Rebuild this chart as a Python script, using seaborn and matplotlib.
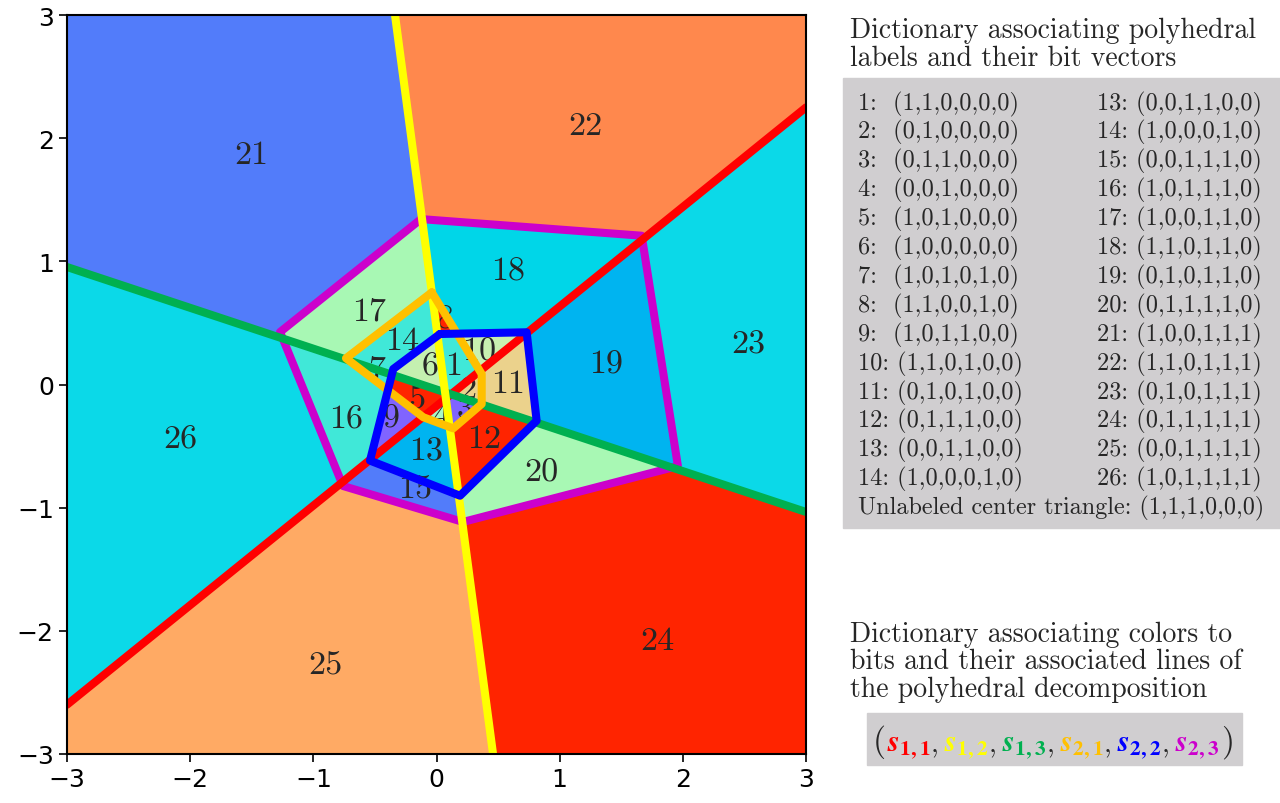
import numpy as np
import matplotlib.pyplot as plt
import seaborn as sns
from matplotlib.path import Path
from matplotlib.colors import ListedColormap
from matplotlib.patches import Rectangle

# first layer: straight lines (end points on the edge of the [-3, 3] box)
red_x = [-3.0, 3.0]
red_y = [-2.60, 2.25]
yellow_x = [-0.337, 0.459]
yellow_y = [3.0, -3.0]
green_x = [-3.0, 3.0]
green_y = [0.954, -1.035]

# second layer: bent lines, closed polygons
orange_x = [-0.038, -0.735, -0.107, 0.136, 0.367, 0.367]
orange_y = [0.748, 0.213, -0.266, -0.356, -0.158, 0.085]
blue_x = [0.028, 0.732, 0.813, 0.191, -0.540, -0.351]
blue_y = [0.410, 0.424, -0.294, -0.903, -0.618, 0.126]
magenta_x = [-0.126, 1.666, 1.960, 0.215, -0.759, -1.270]
magenta_y = [1.343, 1.208, -0.662, -1.116, -0.824, 0.426]

# region labels, bit vectors (s11,s12,s13,s21,s22,s23) and colors
region_ids = list(range(1, 27))
bit_vectors = ["110000", "010000", "011000", "001000", "101000", "100000",
               "101010", "110010", "101100", "110100", "010100", "011100",
               "001100", "100010", "001110", "101110", "100110", "110110",
               "010110", "011110", "100111", "110111", "010111", "011111",
               "001111", "101111"]
region_colors = ["#40e8d8", "#ebd28c", "#8064ff", "#a8f8c8", "#ff2400", "#c4f0b0",
                 "#40e8d8", "#ff2400", "#8064ff", "#c8f0b0", "#ebd28c", "#ff2400",
                 "#00b4f0", "#40e8d8", "#527cfa", "#40e8d8", "#a8f8b4", "#00d6e8",
                 "#00b4f0", "#a8f8b4", "#527cfa", "#ff884d", "#0bd9e8", "#ff2400",
                 "#ffaa64", "#0bd9e8"]
center_bits = "111000"
center_color = "#8064ff"
label_x = [0.136, 0.258, 0.231, 0.042, -0.161, -0.053, -0.485, 0.07, -0.37, 0.35,
           0.58, 0.385, -0.085, -0.28, -0.17, -0.735, -0.55, 0.58, 1.38, 0.85,
           -1.50, 1.21, 2.53, 1.79, -0.905, -2.08]
label_y = [0.153, -0.037, -0.199, -0.253, -0.118, 0.153, 0.126, 0.53, -0.27, 0.27,
           0.01, -0.44, -0.54, 0.36, -0.85, -0.28, 0.60, 0.92, 0.17, -0.71,
           1.87, 2.10, 0.33, -2.08, -2.28, -0.44]

line_colors = ["#ff0000", "#ffff00", "#00b050", "#ffc000", "#0000ff", "#cc00cc"]
bit_names = ["1,1", "1,2", "1,3", "2,1", "2,2", "2,3"]

sns.set_style("ticks")
plt.rcParams["font.family"] = ["DejaVu Sans"]

fig = plt.figure(figsize=(12.8, 8.04), dpi=100)
ax = fig.add_axes([67 / 1280, 1 - 755 / 804, 739 / 1280, 739 / 804])

# classify a fine grid into regions
n = 1400
g = np.linspace(-3, 3, n)
X, Y = np.meshgrid(g, g)
pts = np.column_stack([X.ravel(), Y.ravel()])


def cross(xs, ys):
    return (xs[1] - xs[0]) * (Y - ys[0]) - (ys[1] - ys[0]) * (X - xs[0])


def outside(xs, ys):
    return ~Path(np.column_stack([xs, ys])).contains_points(pts).reshape(X.shape)


bits = [cross(red_x, red_y) > 0,
        cross(yellow_x, yellow_y) > 0,
        cross(green_x, green_y) < 0,
        outside(orange_x, orange_y),
        outside(blue_x, blue_y),
        outside(magenta_x, magenta_y)]
code = np.zeros(X.shape, dtype=int)
for b in bits:
    code = code * 2 + b.astype(int)

lookup = {int(bv, 2): i for i, bv in enumerate(bit_vectors)}
lookup[int(center_bits, 2)] = len(bit_vectors)
idx = np.full(X.shape, len(bit_vectors) + 1)
for c, i in lookup.items():
    idx[code == c] = i

cmap = ListedColormap(region_colors + [center_color, "#cccccc"])
ax.imshow(idx, cmap=cmap, vmin=-0.5, vmax=len(bit_vectors) + 1.5, origin="lower",
          extent=[-3, 3, -3, 3], interpolation="nearest", zorder=1)

for rid, lx, ly in zip(region_ids, label_x, label_y):
    ax.text(lx, ly, str(rid), fontsize=24.5, family="cmr10", ha="center", va="center", zorder=2)

lw = 5.8
sns.lineplot(x=magenta_x + magenta_x[:1], y=magenta_y + magenta_y[:1], sort=False,
             estimator=None, color=line_colors[5], lw=lw, ax=ax, zorder=3)
sns.lineplot(x=red_x, y=red_y, sort=False, estimator=None, color=line_colors[0], lw=lw, ax=ax, zorder=4)
sns.lineplot(x=green_x, y=green_y, sort=False, estimator=None, color=line_colors[2], lw=lw, ax=ax, zorder=5)
sns.lineplot(x=yellow_x, y=yellow_y, sort=False, estimator=None, color=line_colors[1], lw=lw, ax=ax, zorder=6)
sns.lineplot(x=orange_x + orange_x[:1], y=orange_y + orange_y[:1], sort=False,
             estimator=None, color=line_colors[3], lw=lw, ax=ax, zorder=7)
sns.lineplot(x=blue_x + blue_x[:1], y=blue_y + blue_y[:1], sort=False,
             estimator=None, color=line_colors[4], lw=lw, ax=ax, zorder=8)

ax.set_xlim(-3, 3)
ax.set_ylim(-3, 3)
ax.set_xticks(range(-3, 4))
ax.set_yticks(range(-3, 4))
ax.tick_params(labelsize=18, length=6, width=1.2, colors="black")
for sp in ax.spines.values():
    sp.set_linewidth(1.5)
    sp.set_color("black")
    sp.set_zorder(10)


def fx(px):
    return px / 1280


def fy(py):
    return 1 - py / 804


# right side: dictionary of labels
fig.text(fx(850), fy(45), "Dictionary associating polyhedral\nlabels and their bit vectors",
         family="cmr10", fontsize=20, va="center", linespacing=1.05)
fig.patches.append(Rectangle((fx(843), fy(529)), (1280 - 843) / 1280, (529 - 79) / 804,
                             transform=fig.transFigure, color="#d0ced0", zorder=0))


def vec(bv):
    return "(" + ",".join(bv) + ")"


for i in range(14):
    rid = region_ids[i]
    sep = ":  " if rid < 10 else ": "
    fig.text(fx(858), fy(104 + i * 28.9), str(rid) + sep + vec(bit_vectors[i]),
             family="cmr10", fontsize=17.5, va="center")
    j = i + 12
    fig.text(fx(1262), fy(104 + i * 28.9), str(region_ids[j]) + ": " + vec(bit_vectors[j]),
             family="cmr10", fontsize=17.5, va="center", ha="right")
fig.text(fx(858), fy(104 + 14 * 28.9), "Unlabeled center triangle: " + vec(center_bits),
         family="cmr10", fontsize=17.4, va="center")

# right side: dictionary of colors
fig.text(fx(850), fy(662), "Dictionary associating colors to\nbits and their associated lines of\nthe polyhedral decomposition",
         family="cmr10", fontsize=20, va="center", linespacing=1.05)
fig.patches.append(Rectangle((fx(867), fy(766)), (1242 - 867) / 1280, (766 - 714) / 804,
                             transform=fig.transFigure, color="#d0ced0", zorder=0))

fig.canvas.draw()
renderer = fig.canvas.get_renderer()
cursor = 873
base = fy(751)
t = fig.text(fx(cursor), base, "(", family="cmr10", fontsize=24, va="baseline")
cursor += t.get_window_extent(renderer).width + 1
for k, (name, col) in enumerate(zip(bit_names, line_colors)):
    t = fig.text(fx(cursor), base, r"$\mathbfit{s}_{\mathbf{" + name + "}}$", color=col,
                 fontsize=22, math_fontfamily="stix", va="baseline")
    cursor += t.get_window_extent(renderer).width
    if k < len(bit_names) - 1:
        t = fig.text(fx(cursor), base, ",", family="cmr10", fontsize=20, va="baseline")
        cursor += t.get_window_extent(renderer).width + 6
t = fig.text(fx(cursor + 2), base, ")", family="cmr10", fontsize=24, va="baseline")

fig.savefig("out.png", dpi=100)
